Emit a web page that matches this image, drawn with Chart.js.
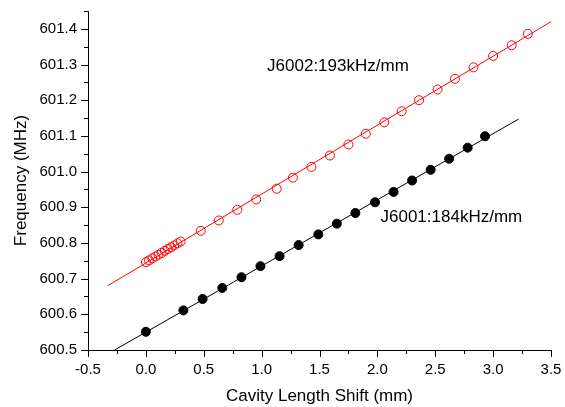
<!DOCTYPE html>
<html>
<head>
<meta charset="utf-8">
<script src="https://cdn.jsdelivr.net/npm/chart.js@4/dist/chart.umd.min.js"></script>
<style>
  html, body { margin: 0; padding: 0; background: #fff; }
  #wrap { width: 565px; height: 407px; }
</style>
</head>
<body>
<div id="wrap"><canvas id="myChart"></canvas></div>
<script>
// DATA ----------------------------------------
// J6002 (red, open circles)
const shift6002 = [0, 0.027, 0.055, 0.082, 0.109, 0.136, 0.164, 0.191, 0.218, 0.245, 0.273, 0.3,
                   0.474, 0.63, 0.79, 0.953, 1.13, 1.27, 1.43, 1.59, 1.75, 1.90, 2.06, 2.21,
                   2.36, 2.52, 2.67, 2.83, 3.0, 3.16, 3.30];
const freq6002 = [600.746, 600.751, 600.757, 600.762, 600.767, 600.772, 600.778, 600.783, 600.788, 600.793, 600.799, 600.804,
                  600.834, 600.863, 600.893, 600.922, 600.952, 600.983, 601.013, 601.045, 601.076, 601.106, 601.138, 601.169,
                  601.200, 601.230, 601.260, 601.292, 601.324, 601.354, 601.386];
// J6001 (black, filled circles)
const shift6001 = [0, 0.324, 0.49, 0.66, 0.826, 0.99, 1.155, 1.32, 1.49, 1.65, 1.81, 1.98, 2.14, 2.30, 2.46, 2.62, 2.78, 2.93];
const freq6001 = [600.551, 600.611, 600.643, 600.674, 600.704, 600.735, 600.763, 600.794, 600.824, 600.854, 600.884, 600.914,
                  600.943, 600.975, 601.005, 601.036, 601.067, 601.099];
// linear fits (end points)
const fit6002X = [-0.33, 3.5];
const fit6002Y = [600.68, 601.42];
const fit6001X = [-0.27, 3.22];
const fit6001Y = [600.5, 601.147];
// text labels
const labelTexts = ['J6002:193kHz/mm', 'J6001:184kHz/mm'];
const labelX = [1.047, 2.027];
const labelY = [601.296, 600.873];

const xMin = -0.5, xMax = 3.5, yMin = 600.5, yMax = 601.45;
const FONT = '"Liberation Sans", Arial, sans-serif';

const toPts = (xs, ys) => xs.map((x, i) => ({x: x, y: ys[i]}));

// ticks drawn outward, major + minor
const tickPlugin = {
    id: 'originTicks',
    afterDraw(chart) {
        const c = chart.ctx;
        const xs = chart.scales.x, ys = chart.scales.y;
        c.save();
        c.strokeStyle = '#000';
        c.lineWidth = 1;
        c.beginPath();
        for (let k = 0; k <= 16; k++) {
            const v = xMin + k * 0.25;
            const px = Math.round(xs.getPixelForValue(v)) + 0.5;
            const len = k % 2 === 0 ? 7 : 4;
            c.moveTo(px, ys.bottom);
            c.lineTo(px, ys.bottom + len);
        }
        for (let k = 0; k <= 19; k++) {
            const v = yMin + k * 0.05;
            const py = Math.round(ys.getPixelForValue(v)) + 0.5;
            const len = k % 2 === 0 ? 7 : 4;
            c.moveTo(xs.left, py);
            c.lineTo(xs.left - len, py);
        }
        c.stroke();
        // labels
        c.fillStyle = '#000';
        c.font = '17px ' + FONT;
        c.textAlign = 'left';
        c.textBaseline = 'middle';
        labelTexts.forEach((t, i) => {
            c.fillText(t, xs.getPixelForValue(labelX[i]), ys.getPixelForValue(labelY[i]));
        });
        c.restore();
    }
};

const noPad = s => { s.paddingTop = 0; s.paddingBottom = 0; s.paddingLeft = 0; s.paddingRight = 0; };

const ctx = document.getElementById('myChart');
const chart = new Chart(ctx, {
    type: 'scatter',
    data: {
        datasets: [
            {   // fit J6002
                data: toPts(fit6002X, fit6002Y),
                showLine: true, borderColor: 'red', borderWidth: 1,
                pointRadius: 0, fill: false
            },
            {   // fit J6001
                data: toPts(fit6001X, fit6001Y),
                showLine: true, borderColor: '#000', borderWidth: 1,
                pointRadius: 0, fill: false
            },
            {
                label: 'J6002',
                data: toPts(shift6002, freq6002),
                pointStyle: 'circle', pointRadius: 4.5,
                pointBorderColor: 'red', pointBackgroundColor: 'rgba(0,0,0,0)',
                pointBorderWidth: 1
            },
            {
                label: 'J6001',
                data: toPts(shift6001, freq6001),
                pointStyle: 'circle', pointRadius: 4.5,
                pointBorderColor: '#000', pointBackgroundColor: '#000',
                pointBorderWidth: 1
            }
        ]
    },
    options: {
        responsive: true,
        maintainAspectRatio: false,
        animation: false,
        layout: { padding: { left: 11, top: 11, right: 14, bottom: 0 } },
        plugins: { legend: { display: false }, tooltip: { enabled: false } },
        scales: {
            x: {
                type: 'linear', min: xMin, max: xMax,
                afterFit(s) { s.height = 57; noPad(s); },
                grid: { display: true, drawOnChartArea: false, drawTicks: false },
                border: { display: true, color: '#000', width: 1 },
                ticks: {
                    stepSize: 0.5, includeBounds: false, padding: 11,
                    color: '#000', maxRotation: 0,
                    font: { family: FONT, size: 15 },
                    callback: v => v.toFixed(1)
                },
                title: {
                    display: true, text: 'Cavity Length Shift (mm)', color: '#000',
                    padding: 0,
                    font: { family: FONT, size: 17 }
                }
            },
            y: {
                type: 'linear', min: yMin, max: yMax,
                afterFit(s) { s.width = 77; noPad(s); },
                grid: { display: true, drawOnChartArea: false, drawTicks: false },
                border: { display: true, color: '#000', width: 1 },
                ticks: {
                    stepSize: 0.1, includeBounds: false, padding: 11,
                    color: '#000',
                    font: { family: FONT, size: 15 },
                    callback: v => v.toFixed(1)
                },
                title: {
                    display: true, text: 'Frequency (MHz)', color: '#000',
                    padding: 0,
                    font: { family: FONT, size: 17 }
                }
            }
        }
    },
    plugins: [tickPlugin]
});
</script>
</body>
</html>
